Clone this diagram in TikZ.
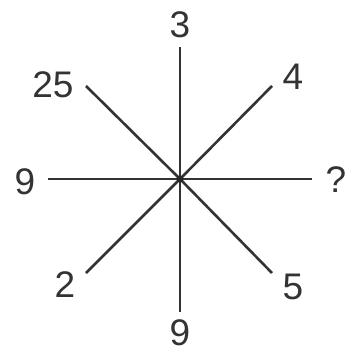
\documentclass[tikz,border=0pt]{standalone}
\usepackage{fontspec}
\setmainfont{Liberation Sans}
\usepackage{tikz}
\usetikzlibrary{positioning}

\begin{document}
\begin{tikzpicture}[
  x=1pt, y=-1pt,
  spoke/.style={line width=2.6pt, draw=black!80},
  num/.style={font=\fontsize{37}{37}\selectfont, text=black!80, inner sep=0pt}
]
\useasboundingbox (0,0) rectangle (355,358);

%% Hub and spoke ends
\coordinate (hub) at (180,179);
\coordinate (n)  at (180,47);
\coordinate (ne) at (272,86);
\coordinate (e)  at (312,179);
\coordinate (se) at (272,273);
\coordinate (s)  at (180,312);
\coordinate (sw) at (86,273);
\coordinate (w)  at (48,179);
\coordinate (nw) at (86,86);

%% Spokes
\draw[spoke] (hub) -- (n);
\draw[spoke] (hub) -- (ne);
\draw[spoke] (hub) -- (e);
\draw[spoke] (hub) -- (se);
\draw[spoke] (hub) -- (s);
\draw[spoke] (hub) -- (sw);
\draw[spoke] (hub) -- (w);
\draw[spoke] (hub) -- (nw);
\fill[black!85] (hub) circle (3.5pt);

%% Numbers
\node[num] (top)    at (180,25)  {3};
\node[num] (topr)   at (293,77)  {4};
\node[num] (right)  at (336,180) {?};
\node[num] (botr)   at (293,287) {5};
\node[num] (bot)    at (180,333) {9};
\node[num] (botl)   at (65,285)  {2};
\node[num] (left)   at (25,182)  {9};
\node[num] (topl)   at (53,85)   {25};

\end{tikzpicture}
\end{document}
